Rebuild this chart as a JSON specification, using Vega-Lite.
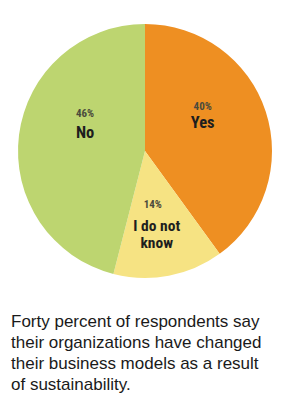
{
  "$schema": "https://vega.github.io/schema/vega-lite/v6.json",
  "width": 276,
  "height": 302,
  "autosize": {"type": "none"},
  "padding": {"left": 7, "right": 0, "top": 0, "bottom": 111},
  "background": "white",
  "config": {"view": {"stroke": null}},
  "title": {
    "text": ["Forty percent of respondents say", "their organizations have changed", "their business models as a result", "of sustainability."],
    "orient": "bottom",
    "anchor": "start",
    "frame": "group",
    "baseline": "alphabetic",
    "offset": 25,
    "dx": 4,
    "font": "Liberation Sans",
    "fontSize": 17,
    "fontWeight": "normal",
    "color": "#1a1a1a",
    "lineHeight": 21
  },
  "data": {
    "values": [
      {"answer": "Yes", "share": 0.40, "rank": 1, "pct": "40%", "label": "Yes"},
      {"answer": "I do not know", "share": 0.14, "rank": 2, "pct": "14%", "label": "I do not\nknow"},
      {"answer": "No", "share": 0.46, "rank": 3, "pct": "46%", "label": "No"}
    ]
  },
  "encoding": {
    "theta": {"field": "share", "type": "quantitative", "stack": true},
    "order": {"field": "rank", "type": "quantitative"}
  },
  "layer": [
    {
      "mark": {"type": "arc", "outerRadius": 127},
      "encoding": {
        "color": {
          "field": "answer",
          "type": "nominal",
          "scale": {"domain": ["Yes", "I do not know", "No"], "range": ["#EE8F22", "#F6E383", "#BDD570"]},
          "legend": null
        }
      }
    },
    {
      "mark": {"type": "text", "radius": 68, "dx": -7, "dy": -19.5, "baseline": "alphabetic", "align": "center", "font": "Liberation Sans Narrow, Roboto Condensed, Roboto", "fontWeight": "bold", "fontSize": 11, "fill": "#4a4a3c"},
      "encoding": {
        "detail": {"field": "answer"},
        "text": {"condition": {"test": "datum.answer === 'Yes'", "field": "pct"}, "value": ""}
      }
    },
    {
      "mark": {"type": "text", "radius": 68, "dx": -7, "dy": -1.5, "baseline": "alphabetic", "align": "center", "font": "Liberation Sans Narrow, Roboto Condensed, Roboto", "fontWeight": "bold", "fontSize": 16.5, "fill": "#1e1e1e"},
      "encoding": {
        "detail": {"field": "answer"},
        "text": {"condition": {"test": "datum.answer === 'Yes'", "field": "label"}, "value": ""}
      }
    },
    {
      "mark": {"type": "text", "radius": 68, "dx": -5, "dy": -9.5, "baseline": "alphabetic", "align": "center", "font": "Liberation Sans Narrow, Roboto Condensed, Roboto", "fontWeight": "bold", "fontSize": 11, "fill": "#4a4a3c"},
      "encoding": {
        "detail": {"field": "answer"},
        "text": {"condition": {"test": "datum.answer === 'I do not know'", "field": "pct"}, "value": ""}
      }
    },
    {
      "mark": {"type": "text", "radius": 68, "dx": -1, "dy": 13, "baseline": "alphabetic", "align": "center", "lineBreak": "\n", "lineHeight": 17.5, "font": "Liberation Sans Narrow, Roboto Condensed, Roboto", "fontWeight": "bold", "fontSize": 15.5, "fill": "#1e1e1e"},
      "encoding": {
        "detail": {"field": "answer"},
        "text": {"condition": {"test": "datum.answer === 'I do not know'", "field": "label"}, "value": ""}
      }
    },
    {
      "mark": {"type": "text", "radius": 68, "dx": 7.5, "dy": -25, "baseline": "alphabetic", "align": "center", "font": "Liberation Sans Narrow, Roboto Condensed, Roboto", "fontWeight": "bold", "fontSize": 11, "fill": "#4a4a3c"},
      "encoding": {
        "detail": {"field": "answer"},
        "text": {"condition": {"test": "datum.answer === 'No'", "field": "pct"}, "value": ""}
      }
    },
    {
      "mark": {"type": "text", "radius": 68, "dx": 7.5, "dy": -4.5, "baseline": "alphabetic", "align": "center", "font": "Liberation Sans Narrow, Roboto Condensed, Roboto", "fontWeight": "bold", "fontSize": 16.5, "fill": "#1e1e1e"},
      "encoding": {
        "detail": {"field": "answer"},
        "text": {"condition": {"test": "datum.answer === 'No'", "field": "label"}, "value": ""}
      }
    }
  ]
}
